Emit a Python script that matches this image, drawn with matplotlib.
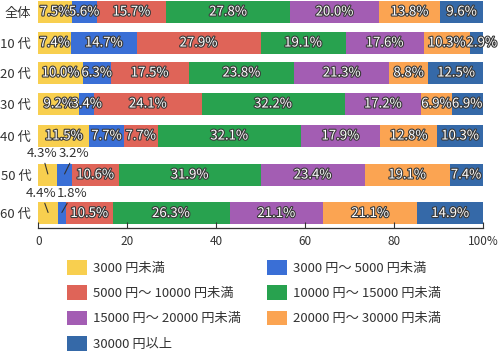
import numpy as np
import matplotlib.pyplot as plt
import matplotlib.patheffects as pe
from matplotlib.patches import Patch

plt.rcParams['font.family'] = ['Noto Sans CJK JP', 'DejaVu Sans']

groups = ['全体', '10 代', '20 代', '30 代', '40 代', '50 代', '60 代']
categories = ['3000 円未満', '3000 円～ 5000 円未満', '5000 円～ 10000 円未満',
              '10000 円～ 15000 円未満', '15000 円～ 20000 円未満',
              '20000 円～ 30000 円未満', '30000 円以上']
values = np.array([
    [7.5, 5.6, 15.7, 27.8, 20.0, 13.8, 9.6],
    [7.4, 14.7, 27.9, 19.1, 17.6, 10.3, 2.9],
    [10.0, 6.3, 17.5, 23.8, 21.3, 8.8, 12.5],
    [9.2, 3.4, 24.1, 32.2, 17.2, 6.9, 6.9],
    [11.5, 7.7, 7.7, 32.1, 17.9, 12.8, 10.3],
    [4.3, 3.2, 10.6, 31.9, 23.4, 19.1, 7.4],
    [4.4, 1.8, 10.5, 26.3, 21.1, 21.1, 14.9],
])
colors = ['#f8cf4f', '#3a6fd6', '#df6458', '#28a24f', '#a35db3', '#fba452', '#3569a8']

# row centres (pixel-like units, axis inverted)
ypos = [12, 43, 73, 104, 136, 175, 213.5]
# small segments labelled outside with leader lines: (row, col) -> label position
outside = {(5, 0): (0.9, 154), (5, 1): (8.1, 154),
           (6, 0): (0.7, 194), (6, 1): (7.7, 194)}

fig = plt.figure(figsize=(5, 3.54), dpi=100)
ax = fig.add_axes([0.0766, 0.356, 0.8894, 0.644])

outline = [pe.Stroke(linewidth=1.6, foreground='#3a3a3a'), pe.Normal()]
left = np.zeros(len(groups))
for j in range(len(categories)):
    ax.barh(ypos, values[:, j], left=left, height=22, color=colors[j], linewidth=0)
    for i in range(len(groups)):
        v = values[i, j]
        cx = left[i] + v / 2
        if (i, j) in outside:
            tx, ty = outside[(i, j)]
            ax.annotate(f'{v:.1f}%', xy=(cx, ypos[i] - 1), xytext=(tx, ty),
                        ha='center', va='center', fontsize=9.5, color='#333333',
                        arrowprops=dict(arrowstyle='-', color='#333333', lw=0.8,
                                        shrinkA=0, shrinkB=0))
        else:
            if i == 1 and j == 6:
                cx += 1.3
            ax.text(cx, ypos[i], f'{v:.1f}%', ha='center', va='center',
                    fontsize=9.5, color='white', path_effects=outline)
    left += values[:, j]

ax.set_xlim(0, 100)
ax.set_ylim(228, 0)
ax.set_yticks(ypos)
ax.set_yticklabels(groups, fontsize=9.5, color='#333333')
ax.tick_params(axis='y', length=0, pad=5)
ax.set_xticks([0, 20, 40, 60, 80, 100])
ax.set_xticklabels(['0', '20', '40', '60', '80', '100%'], fontsize=8.5, color='#333333')
ax.tick_params(axis='x', direction='in', length=4, color='#333333', pad=5)
for s in ['top', 'right', 'left']:
    ax.spines[s].set_visible(False)
ax.spines['bottom'].set_color('#333333')
ax.spines['bottom'].set_linewidth(0.9)

handles = [Patch(facecolor=c, edgecolor='none') for c in colors]
order = [0, 2, 4, 6, 1, 3, 5]
fig.legend([handles[k] for k in order], [categories[k] for k in order],
           ncol=2, loc='upper left', bbox_to_anchor=(0.134, 0.265),
           frameon=False, fontsize=9.5, handlelength=1.52, handleheight=1.36,
           handletextpad=0.45, columnspacing=1.95, labelspacing=0.78,
           borderpad=0, borderaxespad=0, labelcolor='#333333')

plt.savefig('out.png', dpi=100)
